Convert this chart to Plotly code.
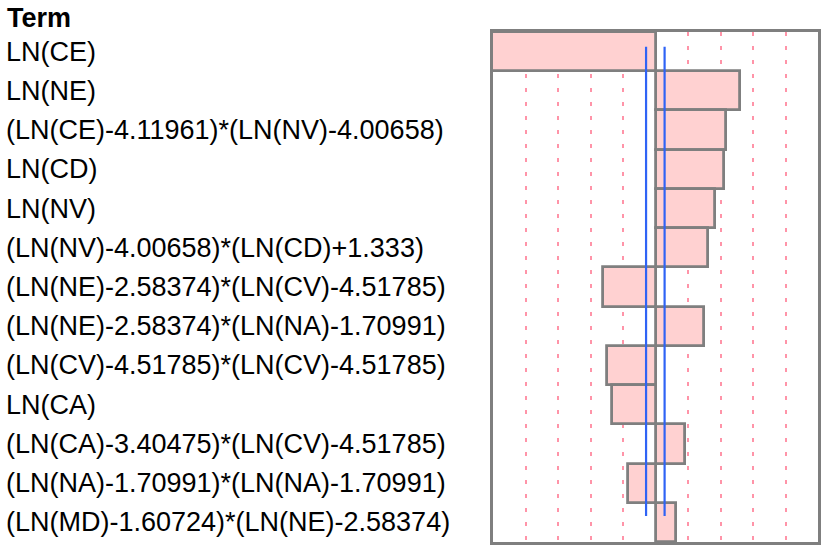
import plotly.graph_objects as go

# parameter estimate terms, top to bottom
terms = [
    "LN(CE)",
    "LN(NE)",
    "(LN(CE)-4.11961)*(LN(NV)-4.00658)",
    "LN(CD)",
    "LN(NV)",
    "(LN(NV)-4.00658)*(LN(CD)+1.333)",
    "(LN(NE)-2.58374)*(LN(CV)-4.51785)",
    "(LN(NE)-2.58374)*(LN(NA)-1.70991)",
    "(LN(CV)-4.51785)*(LN(CV)-4.51785)",
    "LN(CA)",
    "(LN(CA)-3.40475)*(LN(CV)-4.51785)",
    "(LN(NA)-1.70991)*(LN(NA)-1.70991)",
    "(LN(MD)-1.60724)*(LN(NE)-2.58374)",
]
# t ratios
t_ratio = [-5.3, 2.61, 2.17, 2.11, 1.82, 1.61, -1.62, 1.48, -1.48, -1.34, 0.92, -0.85, 0.63]
# reference limits (blue lines) and their vertical span in row units
ref_limits = [-0.29, 0.28]
ref_span = [-0.125, 11.84]

x_range = [-5, 5]
pos = list(range(len(terms)))

fig = go.Figure()
fig.add_trace(go.Bar(
    x=t_ratio, y=pos, orientation="h", width=1,
    marker=dict(color="#FFD1D1", line=dict(color="#7F7F7F", width=2.8)),
    showlegend=False, hoverinfo="skip",
))

for lim in ref_limits:
    fig.add_trace(go.Scatter(
        x=[lim, lim], y=ref_span, mode="lines",
        line=dict(color="#2F63F5", width=2.2),
        showlegend=False, hoverinfo="skip",
    ))

font = dict(family="Liberation Sans, Arial, sans-serif", size=27, color="black")
for p, t in zip(pos, terms):
    fig.add_annotation(x=-1.494, xref="paper", y=p, yref="y", text=t, xshift=-3,
                       showarrow=False, xanchor="left", yanchor="middle", font=font)
fig.add_annotation(x=-1.494, xref="paper", y=1.0275, yref="paper", text="<b>Term</b>",
                   xshift=-2, showarrow=False, xanchor="left", yanchor="middle", font=font)

fig.update_layout(
    width=822, height=548,
    margin=dict(l=493, r=1, t=32, b=6),
    plot_bgcolor="white", paper_bgcolor="white",
    bargap=0,
    xaxis=dict(range=x_range, dtick=1, showticklabels=False, ticks="",
               showgrid=True, gridcolor="#FF94A8", gridwidth=2, griddash="4px,10px",
               zeroline=True, zerolinecolor="#7F7F7F", zerolinewidth=2,
               showline=True, linecolor="#7F7F7F", linewidth=2.5, mirror=True),
    yaxis=dict(range=[len(terms) - 0.5, -0.5], showticklabels=False, ticks="",
               showgrid=False, zeroline=False,
               showline=True, linecolor="#7F7F7F", linewidth=2.5, mirror=True),
)

fig.write_html("out.html", config={"displayModeBar": False},
               post_script="document.body.style.margin='0';")
